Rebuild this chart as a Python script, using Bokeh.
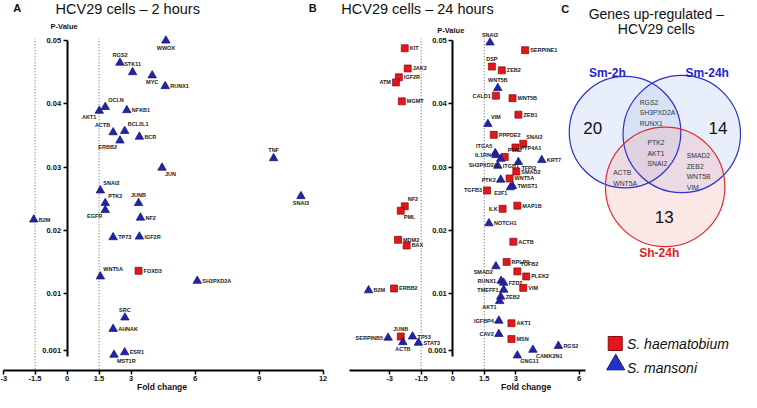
from bokeh.plotting import figure
from bokeh.models import Range1d, LinearAxis, FixedTicker, ColumnDataSource
from bokeh.core.properties import value, field
from bokeh.embed import file_html
from bokeh.resources import INLINE

# ---------------- data ----------------
# Panel A: HCV29 cells - 2 hours
a_sm_genes = ["WWOX", "RGS2", "STK11", "MYC", "RUNX1", "OCLN", "AKT1", "NFKB1",
              "ACTB", "BCL2L1", "BCR", "ERBB2", "JUN", "SNAI2", "PTK2", "JUNB",
              "EGFR", "NF2", "B2M", "TP73", "IGF2R", "WNT5A", "SH3PXD2A", "SRC",
              "AHNAK", "ESR1", "MST1R", "TNF", "SNAI3"]
a_sm_fc = [4.63, 2.48, 3.07, 3.99, 4.60, 1.79, 1.51, 2.80,
           2.16, 2.70, 3.39, 2.48, 4.45, 1.56, 1.79, 3.35,
           1.79, 3.44, -1.56, 2.16, 3.39, 1.56, 6.10, 2.71,
           2.16, 2.70, 2.20, 9.68, 10.96]
a_sm_p = [0.0500, 0.0465, 0.0450, 0.0445, 0.0428, 0.0395, 0.0389, 0.0390,
          0.0355, 0.0357, 0.0348, 0.0342, 0.0299, 0.0263, 0.0243, 0.0243,
          0.0232, 0.0220, 0.0217, 0.0189, 0.0190, 0.0127, 0.0120, 0.0062,
          0.0044, 0.0007, 0.0003, 0.0314, 0.0254]
a_sh_genes = ["FOXD3"]
a_sh_fc = [3.35]
a_sh_p = [0.0136]

# Panel B: HCV29 cells - 24 hours
b_sh_genes = ["KIT", "JAK2", "IGF2R", "ATM", "MGMT", "NF2", "PML", "MDM2", "BAX",
              "ERBB2", "JUNB", "SERPINE1", "DSP", "ZEB2", "CALD1", "WNT5B", "ZEB1",
              "PPPDE2", "SNAI2", "PTP4A1", "PTK2", "SMAD2", "WNT5A", "TGFB3", "ILK",
              "MAP1B", "ACTB", "RPLP0", "TGFB2", "PLEK2", "VIM", "AKT1", "MSN"]
b_sh_fc = [-2.28, -2.14, -2.56, -2.70, -2.42, -2.28, -2.47, -2.60, -2.19,
           -2.79, -2.47, 3.44, 1.86, 2.33, 2.05, 2.84, 3.12,
           1.95, 3.35, 2.98, 2.47, 3.02, 2.70, 1.63, 2.37,
           3.07, 2.88, 2.56, 3.07, 3.49, 3.35, 2.79, 2.79]
b_sh_p = [0.0488, 0.0456, 0.0442, 0.0434, 0.0404, 0.0238, 0.0231, 0.0185, 0.0176,
          0.0108, 0.0032, 0.0485, 0.0459, 0.0453, 0.0413, 0.0409, 0.0383,
          0.0351, 0.0337, 0.0331, 0.0316, 0.0293, 0.0282, 0.0263, 0.0234,
          0.0239, 0.0182, 0.0150, 0.0135, 0.0127, 0.0109, 0.0053, 0.0028]
b_sm_genes = ["B2M", "SERPINB5", "ACTB", "TP53", "STAT3", "SNAI2", "WNT5B", "VIM",
              "ITGA5", "IL1RN", "SH3PXD2A", "TFPI2", "KRT7", "ITGB1", "PTK2", "TWIST1",
              "E2F1", "NOTCH1", "SMAD2", "RUNX1", "FZD7", "TMEFF1", "ZEB2", "AKT1",
              "IGFBP4", "CAV2", "RGS2", "CAMK2N1", "GNG11"]
b_sm_fc = [-4.00, -3.07, -2.37, -1.91, -1.63, 1.77, 2.14, 1.67,
           2.02, 2.05, 2.28, 3.12, 4.23, 2.14, 2.28, 2.84,
           2.74, 1.72, 2.05, 2.30, 2.42, 2.42, 2.28, 2.23,
           2.19, 2.19, 5.02, 3.81, 3.07]
b_sm_p = [0.0105, 0.0030, 0.0023, 0.0032, 0.0022, 0.0497, 0.0425, 0.0368,
          0.0322, 0.0319, 0.0313, 0.0308, 0.0311, 0.0302, 0.0280, 0.0270,
          0.0268, 0.0211, 0.0143, 0.0120, 0.0117, 0.0106, 0.0095, 0.0088,
          0.0057, 0.0036, 0.0017, 0.0011, 0.0002]

# Ticks and thresholds
x_ticks_a = [-3, -1.5, 0, 1.5, 3, 6, 9, 12]
x_ticks_b = [-3, -1.5, 0, 1.5, 3, 6]
p_ticks = [0.001, 0.01, 0.02, 0.03, 0.04, 0.05]
fc_cutoffs = [-1.5, 1.5]

# Panel C: Venn diagram
venn_sets = ["Sm-2h", "Sm-24h", "Sh-24h"]
venn_unique = [20, 14, 13]
venn_sm2_sm24 = ["RGS2", "SH3PXD2A", "RUNX1"]
venn_all = ["PTK2", "AKT1", "SNAI2"]
venn_sm24_sh24 = ["SMAD2", "ZEB2", "WNT5B", "VIM"]
venn_sm2_sh24 = ["ACTB", "WNT5A"]

# -------- label placement (styling, not data) --------
a_sm_lab = ["b", "a", "a", "b", "r", "ar", "bl", "r",
            "al", "ar", "r", "bl", "br", "ar", "ar", "a",
            "bl", "r", "r", "r", "r", "ar", "r", "a",
            "r", "r", "br", "a", "b"]
a_sh_lab = ["r"]
b_sh_lab = ["r", "r", "r", "l", "r", "ar", "br", "r", "r",
            "r", "a", "r", "a", "r", "l", "r", "r",
            "r", "ar", "r", "ar", "r", "r", "l", "l",
            "r", "r", "r", "ar", "r", "r", "r", "r"]
b_sm_lab = ["r", "l", "b", "r", "r", "a", "a", "ar",
            "al", "l", "bl", "br", "r", "r", "l", "r",
            "bl", "r", "bl", "l", "r", "l", "r", "bl",
            "l", "l", "r", "br", "br"]

ANCH = {
    "r": (5, 0, "left", "middle"),
    "l": (-5, 0, "right", "middle"),
    "a": (0, -5, "center", "bottom"),
    "b": (0, 4, "center", "top"),
    "ar": (3, -4, "left", "bottom"),
    "al": (-3, -4, "right", "bottom"),
    "br": (3, 3, "left", "top"),
    "bl": (-3, 3, "right", "top"),
}

FONT = "Liberation Sans"
BLUE_FILL = "#2323a8"
BLUE_LINE = "#14146e"
RED_FILL = "#e3161c"
RED_LINE = "#8a0a0a"

# ---------------- figure ----------------
p = figure(width=741, height=392, x_range=Range1d(0, 757), y_range=Range1d(408, 0),
           x_axis_type=None, y_axis_type=None, toolbar_location=None,
           output_backend="svg", min_border=0, outline_line_color=None)
p.background_fill_color = "white"
p.border_fill_color = "white"

p.extra_x_ranges = {
    "A": Range1d(-68 / 21.8, (757 - 68) / 21.8),
    "B": Range1d(-462 / 21.5, (757 - 462) / 21.5),
}
p.extra_y_ranges = {"P": Range1d(0.01 - (408 - 305) / 6580.0, 0.01 + 305 / 6580.0)}
X_AXIS_LOC = 0.01 - (385 - 305) / 6580.0


def fmt(v):
    return "%g" % v


def make_axes(rname, xticks, xbounds):
    ya = LinearAxis(x_range_name=rname, y_range_name="P", fixed_location=0,
                    bounds=(0, 0.05), ticker=FixedTicker(ticks=p_ticks),
                    major_label_overrides={t: fmt(t) for t in p_ticks})
    xa = LinearAxis(x_range_name=rname, y_range_name="P", fixed_location=X_AXIS_LOC,
                    bounds=xbounds, ticker=FixedTicker(ticks=xticks),
                    major_label_overrides={t: fmt(t) for t in xticks})
    for ax in (ya, xa):
        ax.axis_line_width = 2
        ax.axis_line_color = "black"
        ax.major_tick_line_width = 1.5
        ax.major_tick_line_color = "black"
        ax.major_tick_out = 4
        ax.major_tick_in = 0
        ax.minor_tick_out = 0
        ax.minor_tick_in = 0
        ax.major_label_standoff = 2
        ax.major_label_text_font = FONT
        ax.major_label_text_font_style = "bold"
        ax.major_label_text_font_size = "7.5px"
        ax.major_label_text_color = "#111"
    p.add_layout(ya, "left")
    p.add_layout(xa, "below")


make_axes("A", x_ticks_a, (-3, 12))
make_axes("B", x_ticks_b, (-4.9, 6.3))

for rname in ("A", "B"):
    p.segment(x0=fc_cutoffs, y0=[X_AXIS_LOC + 0.0002] * 2, x1=fc_cutoffs, y1=[0.0503] * 2,
              x_range_name=rname, y_range_name="P", line_color="#7a7a7a",
              line_width=1.2, line_dash="1 2")


def add_set(genes, fc, pv, anchors, rname, marker, size, fill, line):
    src = ColumnDataSource(dict(
        x=fc, y=pv, t=genes,
        dx=[ANCH[a][0] for a in anchors], dy=[ANCH[a][1] for a in anchors],
        al=[ANCH[a][2] for a in anchors], bl=[ANCH[a][3] for a in anchors]))
    p.scatter("x", "y", source=src, marker=marker, size=size, fill_color=fill,
              line_color=line, line_width=0.7, x_range_name=rname, y_range_name="P")
    p.text("x", "y", text="t", x_offset="dx", y_offset="dy",
           text_align=field("al"), text_baseline=field("bl"), source=src,
           x_range_name=rname, y_range_name="P", text_font=value(FONT),
           text_font_size="5.5px", text_font_style="bold", text_color="#1a1a1a")


add_set(a_sm_genes, a_sm_fc, a_sm_p, a_sm_lab, "A", "triangle", 8.5, BLUE_FILL, BLUE_LINE)
add_set(a_sh_genes, a_sh_fc, a_sh_p, a_sh_lab, "A", "square", 7, RED_FILL, RED_LINE)
add_set(b_sh_genes, b_sh_fc, b_sh_p, b_sh_lab, "B", "square", 7, RED_FILL, RED_LINE)
add_set(b_sm_genes, b_sm_fc, b_sm_p, b_sm_lab, "B", "triangle", 8.5, BLUE_FILL, BLUE_LINE)


def txt(x, y, s, size, style="normal", color="#111", align="center", baseline="middle", lh=1.2):
    p.text(x=[x], y=[y], text=[s], text_font=value(FONT), text_font_size=size,
           text_font_style=style, text_color=color, text_align=align,
           text_baseline=baseline, text_line_height=lh)


txt(17, 8, "A", "11px", "bold")
txt(130, 9, "HCV29 cells \u2013 2 hours", "14.5px")
txt(319, 8, "B", "11px", "bold")
txt(426, 9, "HCV29 cells \u2013 24 hours", "14.5px")
txt(577, 9, "C", "11px", "bold")
txt(670, 14, "Genes up-regulated \u2013", "14px")
txt(670, 30, "HCV29 cells", "14px")

txt(65, 27, "P-Value", "7.5px", "bold")
txt(460, 31, "P-Value", "7.5px", "bold")
txt(165, 402, "Fold change", "8.5px", "bold")
txt(537, 402, "Fold change", "8.5px", "bold")

# ---------------- Venn diagram ----------------
vx = [638, 696, 679]
vy = [137, 139, 194]
vr = [57, 60, 61]
p.circle(x=vx[:2], y=vy[:2], radius=vr[:2], fill_color="#b9caf0", fill_alpha=0.33, line_color=None)
p.circle(x=vx[2:], y=vy[2:], radius=vr[2:], fill_color="#f4a0a0", fill_alpha=0.25, line_color=None)
p.circle(x=vx[:2], y=vy[:2], radius=vr[:2], fill_color=None, line_color="#3030d0", line_width=1.2)
p.circle(x=vx[2:], y=vy[2:], radius=vr[2:], fill_color=None, line_color="#e02a2a", line_width=1.2)

txt(620, 75, venn_sets[0], "12px", "bold", "#2424c8")
txt(722, 75, venn_sets[1], "12px", "bold", "#2424c8")
txt(673, 263, venn_sets[2], "12px", "bold", "#e01e1e")
txt(605, 133, str(venn_unique[0]), "17px")
txt(733, 133, str(venn_unique[1]), "17px")
txt(678, 225, str(venn_unique[2]), "17px")
txt(653, 117, "\n".join(venn_sm2_sm24), "6.8px", color="#333", align="left", lh=1.5)
txt(661, 159, "\n".join(venn_all), "6.8px", color="#333", align="left", lh=1.5)
txt(701, 178, "\n".join(venn_sm24_sh24), "6.8px", color="#333", align="left", lh=1.5)
txt(626, 185, "\n".join(venn_sm2_sh24), "6.8px", color="#333", align="left", lh=1.5)

# ---------------- legend ----------------
p.scatter(x=[628], y=[357], marker="square", size=14, fill_color=RED_FILL, line_color=RED_LINE, line_width=1)
p.scatter(x=[628.5], y=[379], marker="triangle", size=18, fill_color="#1f33c8", line_color=BLUE_LINE, line_width=1)
txt(640, 358, "S. haematobium", "14px", "italic", "#111", align="left")
txt(640, 383, "S. mansoni", "14px", "italic", "#111", align="left")

open("out.html", "w").write(file_html(p, INLINE))
